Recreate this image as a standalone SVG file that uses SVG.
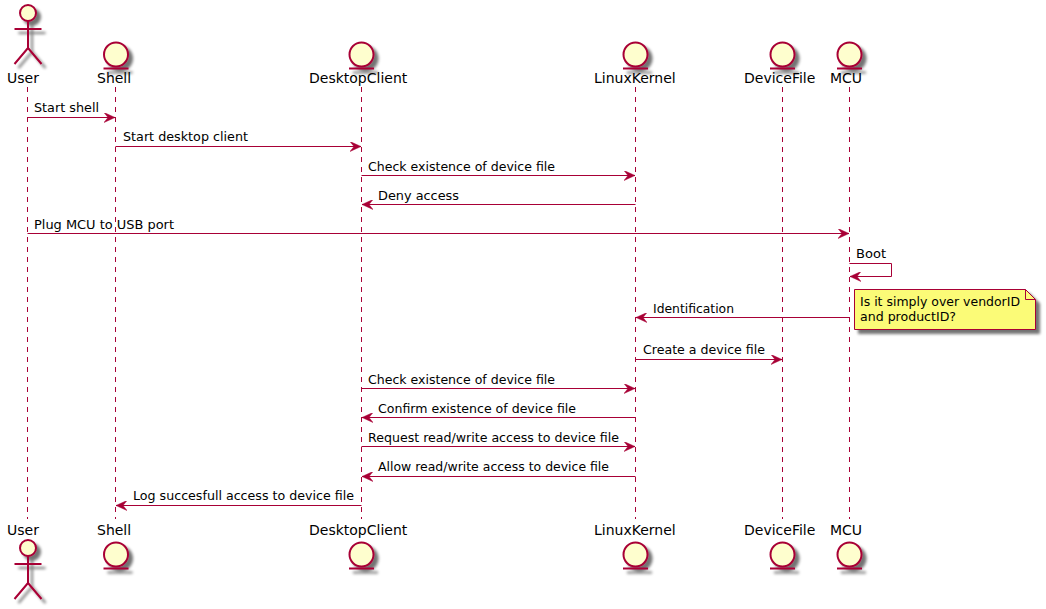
<svg xmlns="http://www.w3.org/2000/svg" width="1046" height="609" viewBox="0 0 1046 609">
<style>
text{font-family:"DejaVu Sans",sans-serif;fill:#000}
.n{font-size:14px}
.m{font-size:13px}
.l{stroke:#A80036;stroke-width:1;stroke-dasharray:5,5;fill:none}
.c{stroke:#A80036;stroke-width:1;fill:none}
.s{stroke:#A80036;stroke-width:2;fill:#FEFECE;filter:url(#sh)}
.a{stroke:#A80036;stroke-width:2;fill:none;filter:url(#sh)}
</style>
<defs>
<filter id="sh" filterUnits="userSpaceOnUse" x="-40" y="-40" width="90" height="110"><feGaussianBlur in="SourceAlpha" stdDeviation="1.8"/><feOffset dx="4" dy="4"/><feComponentTransfer><feFuncA type="linear" slope="0.55"/></feComponentTransfer><feMerge><feMergeNode/><feMergeNode in="SourceGraphic"/></feMerge></filter>
<filter id="shn" x="-10%" y="-20%" width="125%" height="150%"><feGaussianBlur in="SourceAlpha" stdDeviation="1.8"/><feOffset dx="4" dy="4"/><feComponentTransfer><feFuncA type="linear" slope="0.55"/></feComponentTransfer><feMerge><feMergeNode/><feMergeNode in="SourceGraphic"/></feMerge></filter>
<marker id="ah" markerUnits="userSpaceOnUse" markerWidth="13" markerHeight="10" refX="11" refY="5" orient="auto"><path d="M0,0 L11,5 L0,10 L4,5 Z" fill="#A80036" stroke="#A80036" stroke-width="0.5"/></marker>
<g id="actor"><circle class="s" cx="0" cy="0" r="8"/><path class="a" d="M0,8 V35 M-13.5,16 H13.5 M0,35 L-13.5,51 M0,35 L13.5,51"/></g>
<g id="ent"><circle class="s" cx="0" cy="0" r="12"/><path class="a" d="M-12.5,14 H12.5"/></g>
</defs>
<g id="connectors">
<path class="l" d="M27.5,87V519M115.5,87V519M361.5,87V519M635.5,87V519M782.5,87V519M849.5,87V519"/>
<g class="c">
<line x1="27.5" y1="117.5" x2="115" y2="117.5" marker-end="url(#ah)"/>
<line x1="115.5" y1="146.5" x2="361" y2="146.5" marker-end="url(#ah)"/>
<line x1="361.5" y1="175.5" x2="635" y2="175.5" marker-end="url(#ah)"/>
<line x1="635.5" y1="204.5" x2="362" y2="204.5" marker-end="url(#ah)"/>
<line x1="27.5" y1="233.5" x2="849" y2="233.5" marker-end="url(#ah)"/>
<path d="M849.5,263.5 H891.5 V276.5 H850" marker-end="url(#ah)"/>
<line x1="849.5" y1="317.5" x2="636" y2="317.5" marker-end="url(#ah)"/>
<line x1="635.5" y1="359.5" x2="782" y2="359.5" marker-end="url(#ah)"/>
<line x1="361.5" y1="388.5" x2="635" y2="388.5" marker-end="url(#ah)"/>
<line x1="635.5" y1="417.5" x2="362" y2="417.5" marker-end="url(#ah)"/>
<line x1="361.5" y1="446.5" x2="635" y2="446.5" marker-end="url(#ah)"/>
<line x1="635.5" y1="476.5" x2="362" y2="476.5" marker-end="url(#ah)"/>
<line x1="361.5" y1="505.5" x2="116" y2="505.5" marker-end="url(#ah)"/>
</g>
<g class="m">
<text x="34" y="112" textLength="65" lengthAdjust="spacingAndGlyphs">Start shell</text>
<text x="123" y="141" textLength="125" lengthAdjust="spacingAndGlyphs">Start desktop client</text>
<text x="368" y="171" textLength="187" lengthAdjust="spacingAndGlyphs">Check existence of device file</text>
<text x="378" y="200" textLength="81" lengthAdjust="spacingAndGlyphs">Deny access</text>
<text x="34" y="229" textLength="140" lengthAdjust="spacingAndGlyphs">Plug MCU to USB port</text>
<text x="856" y="258" textLength="30" lengthAdjust="spacingAndGlyphs">Boot</text>
<text x="653" y="313" textLength="81" lengthAdjust="spacingAndGlyphs">Identification</text>
<text x="643" y="354" textLength="122" lengthAdjust="spacingAndGlyphs">Create a device file</text>
<text x="368" y="384" textLength="187" lengthAdjust="spacingAndGlyphs">Check existence of device file</text>
<text x="378" y="413" textLength="198" lengthAdjust="spacingAndGlyphs">Confirm existence of device file</text>
<text x="368" y="442" textLength="251" lengthAdjust="spacingAndGlyphs">Request read/write access to device file</text>
<text x="378" y="471" textLength="231" lengthAdjust="spacingAndGlyphs">Allow read/write access to device file</text>
<text x="133" y="500" textLength="221" lengthAdjust="spacingAndGlyphs">Log succesfull access to device file</text>
</g>
</g>
<g id="User"><use href="#actor" x="28" y="13"/><use href="#actor" x="28" y="548"/><text class="n" x="7" y="83">User</text><text class="n" x="7" y="535">User</text></g>
<g id="Shell"><use href="#ent" x="116" y="54.5"/><use href="#ent" x="116" y="554.5"/><text class="n" x="97" y="83">Shell</text><text class="n" x="97" y="535">Shell</text></g>
<g id="DesktopClient"><use href="#ent" x="361.5" y="54.5"/><use href="#ent" x="361.5" y="554.5"/><text class="n" x="309" y="83">DesktopClient</text><text class="n" x="309" y="535">DesktopClient</text></g>
<g id="LinuxKernel"><use href="#ent" x="635.5" y="54.5"/><use href="#ent" x="635.5" y="554.5"/><text class="n" x="594" y="83">LinuxKernel</text><text class="n" x="594" y="535">LinuxKernel</text></g>
<g id="DeviceFile"><use href="#ent" x="782.5" y="54.5"/><use href="#ent" x="782.5" y="554.5"/><text class="n" x="744" y="83">DeviceFile</text><text class="n" x="744" y="535">DeviceFile</text></g>
<g id="MCU"><use href="#ent" x="849.5" y="54.5"/><use href="#ent" x="849.5" y="554.5"/><text class="n" x="830" y="83">MCU</text><text class="n" x="830" y="535">MCU</text></g>
<g id="note">
<path d="M854.5,289.5 H1025.5 L1035.5,299.5 V329.5 H854.5 Z" fill="#FBFB77" stroke="#A80036" filter="url(#shn)"/>
<path d="M1025.5,289.5 V299.5 H1035.5" fill="none" stroke="#A80036"/>
<text class="m" x="860" y="306" textLength="160" lengthAdjust="spacingAndGlyphs">Is it simply over vendorID</text>
<text class="m" x="860" y="321" textLength="96" lengthAdjust="spacingAndGlyphs">and productID?</text>
</g>
</svg>
